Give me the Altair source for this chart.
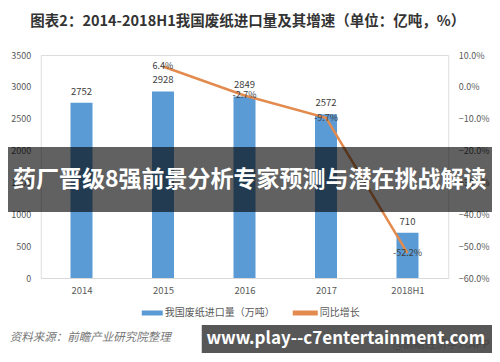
import altair as alt
import pandas as pd

years = ["2014", "2015", "2016", "2017", "2018H1"]
imports = [2752, 2928, 2849, 2572, 710]
growth_years = ["2015", "2016", "2017", "2018H1"]
growth = [6.4, -2.7, -9.7, -52.2]
left_ticks = [0, 500, 1000, 1500, 2000, 2500, 3000, 3500]
right_ticks = [-60, -50, -40, -30, -20, -10, 0, 10]

title_text = "图表2：2014-2018H1我国废纸进口量及其增速（单位：亿吨，%）"
legend_bar = "我国废纸进口量（万吨）"
legend_line = "同比增长"
source_text = "资料来源：前瞻产业研究院整理"
app_text = "@前瞻经济学人APP"
banner_text = "药厂晋级8强前景分析专家预测与潜在挑战解读"
url_text = "www.play--c7entertainment.com"

FONT = "Noto Sans CJK SC"
BLUE = "#5B9BD5"
ORANGE = "#E38B4E"

bars_df = pd.DataFrame({"year": years, "imports": imports})
line_df = pd.DataFrame({"year": growth_years, "growth": growth,
                        "label": [f"{g:.1f}%" for g in growth]})
one = pd.DataFrame({"a": [0]})

xaxis = alt.Axis(labelAngle=0, labelFont=FONT, labelFontSize=9.5,
                 labelColor="#595959", ticks=False, domainColor="#d9d9d9",
                 labelPadding=7, grid=False)
xscale = alt.Scale(type="point", padding=0.5, domain=years)

def xenc():
    return alt.X("year:O", sort=years, title=None, scale=xscale, axis=xaxis)

yl = alt.Scale(domain=[0, 3500], nice=False, zero=True)
yr = alt.Scale(domain=[-60, 10], nice=False, zero=False)
laxis = alt.Axis(orient="left", values=left_ticks, tickCount=8, grid=False, ticks=False,
                 domain=False, labelFont=FONT, labelFontSize=9,
                 labelColor="#595959", labelPadding=10, format="d",
                 labelOverlap=False, labelBound=False)
raxis = alt.Axis(orient="right", values=right_ticks, tickCount=8, grid=False, ticks=False,
                 domain=False, labelFont=FONT, labelFontSize=9,
                 labelColor="#595959", labelPadding=10,
                 labelOverlap=False, labelBound=False,
                 labelExpr="format(datum.value, '.1f') + '%'")

bar = alt.Chart(bars_df).mark_bar(size=22, color=BLUE).encode(
    x=xenc(), y=alt.Y("imports:Q", scale=yl, title=None, axis=laxis))
bar_text = alt.Chart(bars_df).mark_text(dy=-11, font=FONT, fontSize=9.5,
                                       color="#404040").encode(
    x=xenc(), y=alt.Y("imports:Q", scale=yl, title=None, axis=laxis),
    text="imports:Q")
left_layer = alt.layer(bar, bar_text)

line = alt.Chart(line_df).mark_line(color=ORANGE, strokeWidth=2.5).encode(
    x=xenc(), y=alt.Y("growth:Q", scale=yr, title=None, axis=raxis))
line_text = alt.Chart(line_df).mark_text(font=FONT, fontSize=9, color="#404040",
                                        baseline="middle").encode(
    x=xenc(), y=alt.Y("growth:Q", scale=yr, title=None, axis=raxis), text="label:N")
right_layer = alt.layer(line, line_text)

def txt(text, x, y, size, color, weight="normal", align="center", style="normal"):
    return alt.Chart(one).mark_text(text=text, font=FONT, fontSize=size, color=color,
                                    fontWeight=weight, align=align, baseline="middle",
                                    fontStyle=style).encode(x=alt.value(x), y=alt.value(y))

def box(x1, x2, y1, y2, color, opacity):
    return alt.Chart(one).mark_rect(color=color, opacity=opacity).encode(
        x=alt.value(x1), x2=alt.value(x2), y=alt.value(y1), y2=alt.value(y2))

def swatch(x1, x2, y, color):
    return alt.Chart(one).mark_rule(color=color, strokeWidth=5).encode(
        x=alt.value(x1), x2=alt.value(x2), y=alt.value(y))

title = txt(title_text, 207, -33, 14.5, "#333333", weight="bold")
leg1 = swatch(101, 122, 258, BLUE)
leg1t = txt(legend_bar, 124, 258, 10, "#595959", align="left")
leg2 = swatch(252, 277, 258, ORANGE)
leg2t = txt(legend_line, 279, 258, 10, "#595959", align="left")
src = txt(source_text, -31, 283, 11.5, "#777777", align="left", style="italic")
app = txt(app_text, 449, 290, 11, "#888888", align="right")
banner = box(-33, 452, 92, 157, "#000000", 0.62)
banner_t = txt(banner_text, 209, 125, 23, "#ffffff", weight="bold")
urlbox = box(161, 452, 270, 298, "#3a3a3a", 0.85)
url_t = txt(url_text, 305, 284, 17, "#ffffff", weight="bold")

chart = alt.layer(
    alt.layer(left_layer, right_layer).resolve_scale(y="independent"),
    title, leg1, leg1t, leg2, leg2t, src, app, banner, banner_t, urlbox, url_t,
).properties(
    width=407.5, height=223,
    autosize=alt.AutoSizeParams(type="none"),
    padding={"left": 32.75, "top": 47, "right": 43.75, "bottom": 76},
).configure_view(stroke=None).configure(background="white")

chart.save("out.html", embed_options={"renderer": "svg", "actions": False})
